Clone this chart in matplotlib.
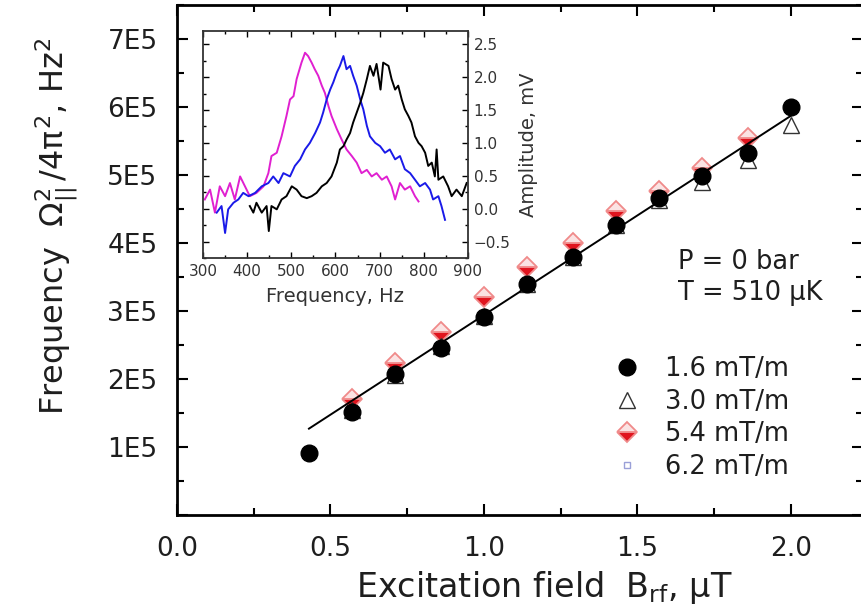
import matplotlib
matplotlib.use("Agg")
import matplotlib.pyplot as plt
from matplotlib.ticker import MultipleLocator, FuncFormatter

plt.rcParams['font.family'] = ['DejaVu Sans']
plt.rcParams['mathtext.fontset'] = 'custom'
plt.rcParams['mathtext.rm'] = 'DejaVu Sans'
plt.rcParams['mathtext.it'] = 'DejaVu Sans'
plt.rcParams['mathtext.bf'] = 'DejaVu Sans:bold'

# main panel: excitation field (uT) vs frequency^2 (Hz^2)
b_rf = [0.43, 0.57, 0.71, 0.86, 1.00, 1.14, 1.29, 1.43, 1.57, 1.71, 1.86, 2.00]
f2_16 = [0.91e5, 1.52e5, 2.07e5, 2.46e5, 2.91e5, 3.39e5, 3.79e5, 4.27e5, 4.66e5, 4.99e5, 5.33e5, 6.00e5]
b_30 = [0.57, 0.71, 0.86, 1.00, 1.14, 1.29, 1.43, 1.57, 1.71, 1.86, 2.00]
f2_30 = [1.54e5, 2.06e5, 2.48e5, 2.93e5, 3.40e5, 3.80e5, 4.26e5, 4.63e5, 4.90e5, 5.22e5, 5.73e5]
b_54 = [0.57, 0.71, 0.86, 1.00, 1.14, 1.29, 1.43, 1.57, 1.71, 1.86]
f2_54 = [1.70e5, 2.24e5, 2.69e5, 3.20e5, 3.65e5, 4.00e5, 4.47e5, 4.76e5, 5.10e5, 5.55e5]
b_62 = [0.57, 0.71, 0.86, 1.00, 1.14, 1.29, 1.43, 1.57, 1.71, 1.86]
f2_62 = [1.55e5, 2.10e5, 2.52e5, 2.95e5, 3.42e5, 3.83e5, 4.30e5, 4.65e5, 5.00e5, 5.35e5]
fit_b = [0.43, 2.00]
fit_f2 = [1.27e5, 5.87e5]

# inset: resonance curves, frequency (Hz) vs amplitude (mV)
mag_f = [304, 316, 327, 338, 350, 361, 372, 384, 395, 406, 421, 437, 448, 455, 467, 478,
         489, 497, 505, 512, 523, 531, 538, 546, 553, 561, 569, 576, 584, 591, 603, 614,
         625, 637, 648, 659, 671, 682, 693, 705, 716, 727, 735, 746, 757, 769, 780, 788]
mag_a = [0.14, 0.29, -0.06, 0.34, 0.19, 0.39, 0.14, 0.49, 0.34, 0.19, 0.24, 0.34, 0.54, 0.80,
         0.85, 1.10, 1.41, 1.66, 1.71, 1.97, 2.22, 2.37, 2.32, 2.22, 2.12, 2.02, 1.87, 1.76,
         1.56, 1.41, 1.21, 1.05, 0.90, 0.80, 0.70, 0.54, 0.59, 0.49, 0.54, 0.44, 0.49, 0.34,
         0.14, 0.39, 0.29, 0.34, 0.19, 0.11]
blue_f = [331, 342, 350, 357, 369, 380, 391, 403, 418, 433, 448, 459, 471, 482, 497, 508,
          520, 531, 542, 554, 565, 572, 580, 588, 595, 603, 610, 618, 625, 633, 640, 648,
          656, 663, 671, 678, 690, 701, 712, 723, 735, 746, 757, 769, 780, 791, 803, 814,
          821, 833, 840, 848]
blue_a = [-0.06, 0.04, -0.37, -0.01, 0.09, 0.14, 0.24, 0.19, 0.24, 0.34, 0.39, 0.49, 0.39,
          0.54, 0.49, 0.65, 0.75, 0.90, 1.00, 1.15, 1.31, 1.46, 1.66, 1.81, 1.92, 2.07, 2.17,
          2.32, 2.12, 2.17, 2.02, 1.87, 1.66, 1.51, 1.26, 1.10, 1.00, 0.95, 0.85, 0.90, 0.75,
          0.80, 0.60, 0.54, 0.44, 0.34, 0.39, 0.29, 0.14, 0.19, 0.04, -0.17]
blk_f = [406, 414, 421, 433, 444, 449, 455, 467, 478, 489, 501, 512, 523, 535, 546, 557,
         569, 580, 591, 603, 610, 618, 625, 633, 640, 648, 656, 663, 671, 678, 686, 693,
         702, 708, 720, 727, 735, 742, 750, 757, 765, 772, 780, 788, 795, 803, 810, 818,
         825, 829, 833, 844, 855, 863, 874, 886, 897]
blk_a = [0.04, -0.06, 0.09, -0.06, 0.04, -0.34, 0.04, -0.01, 0.14, 0.19, 0.34, 0.29, 0.19,
         0.16, 0.19, 0.24, 0.34, 0.39, 0.49, 0.70, 0.90, 0.95, 1.05, 1.15, 1.31, 1.46, 1.61,
         1.76, 1.97, 2.17, 2.02, 2.20, 1.81, 2.22, 2.17, 1.97, 1.81, 1.87, 1.66, 1.51, 1.41,
         1.31, 1.10, 1.00, 0.95, 0.85, 0.65, 0.70, 0.49, 0.90, 0.44, 0.49, 0.34, 0.19, 0.29,
         0.19, 0.39]

txt = '#1e1e1e'
fig = plt.figure(figsize=(8.62, 6.11), dpi=100)
ax = fig.add_axes([0.2053, 0.1571, 0.7958, 0.8347])

ax.plot(b_62, f2_62, 's', ms=5, mfc='none', mec='#9aa0d8', mew=1, label='6.2 mT/m', zorder=2)
ax.plot(b_54, f2_54, 'D', ms=10, color='#e0141e', mec='#f08a8a', mew=1.3, fillstyle='bottom',
        markerfacecoloralt='#fbe3e3', label='5.4 mT/m', zorder=3)
ax.plot(b_30, f2_30, '^', ms=11, mfc='white', mec='#333333', mew=1, label='3.0 mT/m', zorder=4)
ax.plot(b_rf, f2_16, 'o', ms=12, color='black', label='1.6 mT/m', zorder=5)
ax.plot(fit_b, fit_f2, '-', color='black', lw=1.4, zorder=6)

ax.set_xlim(0, 2.235)
ax.set_ylim(0, 7.5e5)
ax.xaxis.set_major_locator(MultipleLocator(0.5))
ax.xaxis.set_minor_locator(MultipleLocator(0.25))
ax.yaxis.set_major_locator(MultipleLocator(1e5))
ax.yaxis.set_minor_locator(MultipleLocator(0.5e5))
ax.yaxis.set_major_formatter(FuncFormatter(lambda v, p: '' if v == 0 else f'{int(round(v / 1e5))}E5'))
ax.xaxis.set_major_formatter(FuncFormatter(lambda v, p: f'{v:.1f}'))
ax.tick_params(which='both', direction='in', top=True, right=True, width=1.5, colors='black',
               labelcolor=txt)
ax.tick_params(which='major', length=8, labelsize=19)
ax.tick_params(axis='y', which='major', pad=14)
ax.tick_params(axis='x', which='major', pad=15)
ax.tick_params(which='minor', length=5)
for s in ax.spines.values():
    s.set_linewidth(2)

ax.set_xlabel('Excitation field  B$_{\\mathrm{rf}}$, µT', fontsize=24, color=txt)
ax.xaxis.set_label_coords(0.535, -0.105)
ax.set_ylabel('Frequency  $\\Omega^{2}_{||}\\,/4\\pi^{2}$, Hz$^{2}$', fontsize=23, color=txt)
ax.yaxis.set_label_coords(-0.14, 0.565)

ax.text(1.632, 3.50e5, 'P = 0 bar\nT = 510 µK', fontsize=18.5, color=txt, va='center',
        linespacing=1.25)

handles, labels = ax.get_legend_handles_labels()
order = [3, 2, 1, 0]
ax.legend([handles[i] for i in order], [labels[i] for i in order], loc='upper left',
          bbox_to_anchor=(0.622, 0.331), frameon=False, fontsize=18.5, handlelength=1.0,
          handletextpad=1.0, labelspacing=0.25, labelcolor=txt, borderaxespad=0)

# inset
ins = fig.add_axes([0.2355, 0.5777, 0.3074, 0.3715])
ins.plot(mag_f, mag_a, color='#e020d0', lw=1.4)
ins.plot(blue_f, blue_a, color='#1a1ae8', lw=1.4)
ins.plot(blk_f, blk_a, color='black', lw=1.4)
ins.set_xlim(300, 900)
ins.set_ylim(-0.75, 2.7)
ins.xaxis.set_major_locator(MultipleLocator(100))
ins.xaxis.set_minor_locator(MultipleLocator(50))
ins.yaxis.set_major_locator(MultipleLocator(0.5))
ins.yaxis.set_minor_locator(MultipleLocator(0.25))
ins.yaxis.tick_right()
ins.yaxis.set_label_position('right')
ins.tick_params(which='both', direction='in', top=True, left=True, right=True, width=1,
                labelcolor='#333333')
ins.tick_params(which='major', length=4, labelsize=11, pad=4)
ins.tick_params(which='minor', length=2)
for s in ins.spines.values():
    s.set_linewidth(1.3)
    s.set_color('#333333')
ins.set_xlabel('Frequency, Hz', fontsize=14, color='#333333', labelpad=6)
ins.set_ylabel('Amplitude, mV', fontsize=14, color='#333333', labelpad=6)

fig.savefig('out.png', dpi=100)
